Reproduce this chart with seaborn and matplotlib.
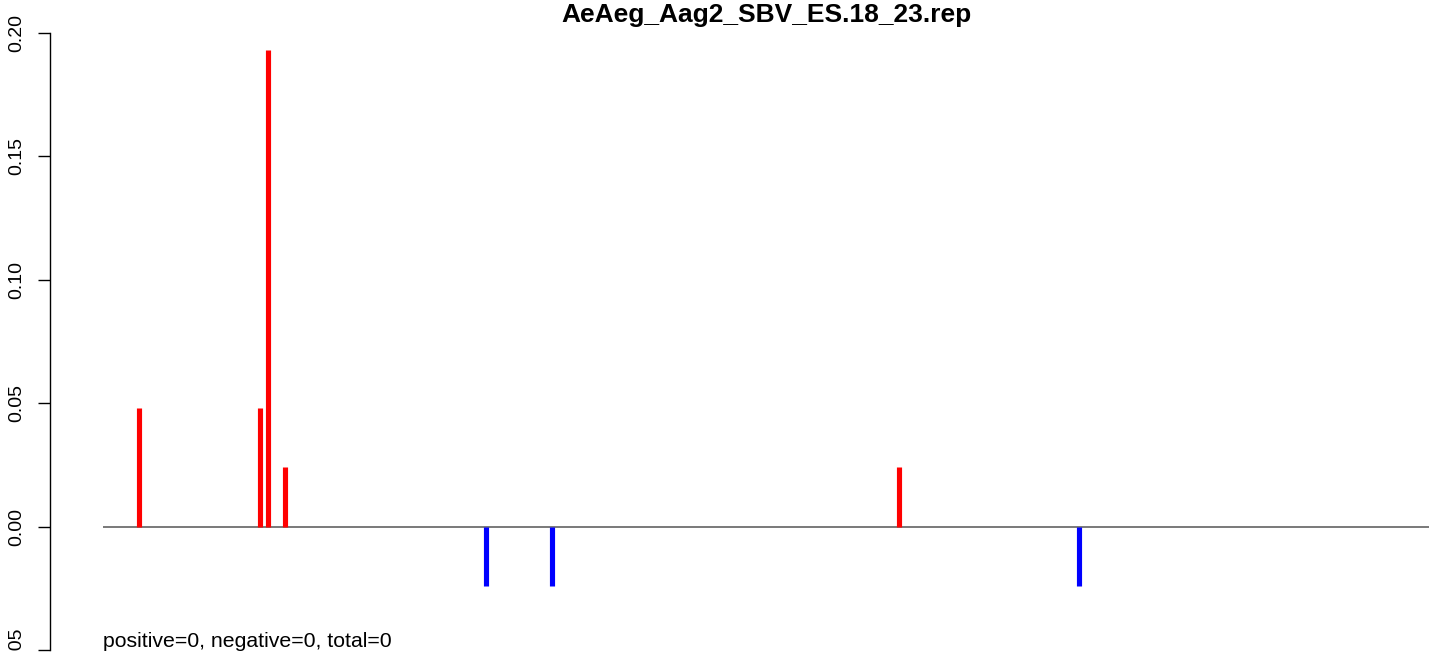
import numpy as np
import pandas as pd
import matplotlib
matplotlib.use("Agg")
import matplotlib.pyplot as plt
import seaborn as sns

# veri: okuma konumları ve normalize değerler
positions = [36, 157, 165, 182, 383, 449, 796, 976]
values = [0.048, 0.048, 0.193, 0.024, -0.024, -0.024, 0.024, -0.024]
genome_len = 1400
title = "AeAeg_Aag2_SBV_ES.18_23.rep"
footer = "positive=0, negative=0, total=0"
y_ticks = [-0.05, 0.00, 0.05, 0.10, 0.15, 0.20]
y_labels = ["-0.05", "0.00", "0.05", "0.10", "0.15", "0.20"]

df = pd.DataFrame({"pos": positions, "val": values})
df["strand"] = np.where(df["val"] > 0, "plus", "minus")

sns.set_style("ticks")
plt.rcParams["font.family"] = ["Liberation Sans", "DejaVu Sans"]
plt.rcParams["text.color"] = "black"
plt.rcParams["ytick.color"] = "black"
plt.rcParams["ytick.labelcolor"] = "black"

W, H = 1429, 653
fig = plt.figure(figsize=(W / 100, H / 100), dpi=100)
ax = fig.add_axes([50 / W, 3 / H, 1379 / W, 617 / H])

# sıfır çizgisi
ax.hlines(0, 0, genome_len, color="#555555", linewidth=1.1, zorder=1)

# dikey çubuklar (type="h")
palette = {"plus": "#ff0000", "minus": "#0000ff"}
for strand, sub in df.groupby("strand"):
    ax.vlines(sub["pos"], 0, sub["val"], color=palette[strand], linewidth=3.7, zorder=2)

ax.set_xlim(-53, 1326)
ax.set_ylim(-0.05, 0.20)
ax.set_yticks(y_ticks)
ax.set_yticklabels(y_labels, rotation=90, va="center", fontsize=14, color="black")
ax.tick_params(axis="y", length=8.6, width=1.0, pad=9, colors="black")
ax.set_xticks([])
sns.despine(ax=ax, top=True, right=True, bottom=True)
ax.spines["left"].set_linewidth(1.0)
ax.spines["left"].set_color("black")
ax.patch.set_alpha(0)

fig.text(766 / W, 1 - 22 / H, title, ha="center", va="baseline",
         fontsize=19, fontweight="bold", color="black")
ax.text(0, -0.05 + 3 / 2470, footer, ha="left", va="baseline",
        fontsize=15.3, color="black")

fig.savefig("out.png", dpi=100)
